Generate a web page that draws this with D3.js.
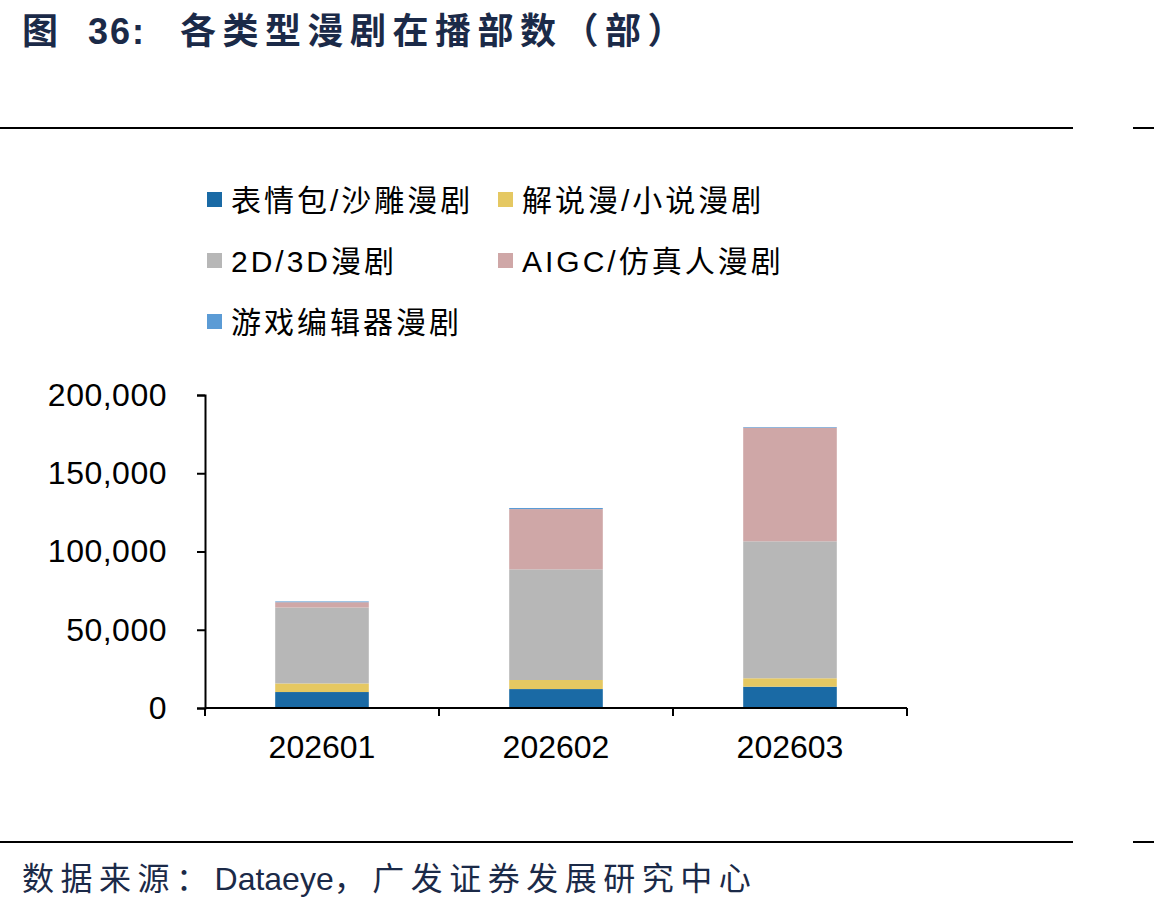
<!DOCTYPE html>
<html>
<head>
<meta charset="utf-8">
<script src="https://cdn.jsdelivr.net/npm/d3@7"></script>
<style>
  body { margin: 0; background: #fff; }
  text { font-family: "Liberation Sans", Arial, "Noto Sans CJK SC", sans-serif; }
  .cjk { font-family: "Liberation Sans", "Noto Sans CJK SC", sans-serif; }
</style>
</head>
<body>
<script>
// 数据：各月份各类型漫剧在播部数
var months = ['202601', '202602', '202603'];
var seriesNames = ['表情包/沙雕漫剧', '解说漫/小说漫剧', '2D/3D漫剧', 'AIGC/仿真人漫剧', '游戏编辑器漫剧'];
var emoji   = [10200, 12100, 13600];
var novel   = [5500, 5800, 5400];
var anim    = [48500, 70700, 87500];
var aigc    = [3400, 38500, 72600];
var game    = [500, 700, 400];
var yTicks  = [0, 50000, 100000, 150000, 200000];

var colors = ['#1a6aa5', '#e5c862', '#b7b7b7', '#cfa7a7', '#5b9bd5'];

var WIDTH = 1154, HEIGHT = 911;
var svg = d3.select('body').append('svg')
            .attr('width', WIDTH)
            .attr('height', HEIGHT);

// 标题（分三段摆放）
var titleParts = [[22, '图', 0], [88, '36:', 2], [180, '各类型漫剧在播部数（部）', 6.5]];
svg.selectAll('text.title')
   .data(titleParts)
   .enter()
 .append('text')
   .attr('class', 'title cjk')
   .attr('x', function(d) { return d[0]; })
   .attr('y', 44)
   .attr('font-size', 36).attr('font-weight', 'bold')
   .attr('letter-spacing', function(d) { return d[2]; })
   .attr('fill', '#1b2a48')
   .text(function(d) { return d[1]; });

// 上下分隔线
[128, 842].forEach(function(y) {
  svg.append('line').attr('x1', 0).attr('x2', 1073).attr('y1', y).attr('y2', y)
     .attr('stroke', '#000').attr('stroke-width', 2);
  svg.append('line').attr('x1', 1133).attr('x2', 1154).attr('y1', y).attr('y2', y)
     .attr('stroke', '#000').attr('stroke-width', 2);
});

// 数据来源（中文部分加字距，英文不加）
var source = svg.append('text')
   .attr('x', 22).attr('y', 890)
   .attr('class', 'cjk')
   .attr('font-size', 32).attr('fill', '#1b2a48');
[['数据来源：', 6.5], ['Dataeye', 0], ['，广发证券发展研究中心', 6.5]].forEach(function(p) {
  source.append('tspan').attr('letter-spacing', p[1]).text(p[0]);
});

// 图例
var legendPos = [[207, 200], [498, 200], [207, 261], [498, 261], [207, 322]];
var legend = svg.selectAll('g.legend')
                .data(seriesNames)
                .enter()
              .append('g')
                .attr('class', 'legend')
                .attr('transform', function(d, i) {
                  return 'translate(' + legendPos[i][0] + ',' + legendPos[i][1] + ')';
                });
legend.append('rect')
      .attr('x', 0).attr('y', -8).attr('width', 15).attr('height', 15)
      .attr('fill', function(d, i) { return colors[i]; });
legend.append('text')
      .attr('x', 24).attr('y', 11)
      .attr('class', 'cjk')
      .attr('font-size', 30).attr('letter-spacing', 3).attr('fill', '#000')
      .text(function(d) { return d; });

// 比例尺
var x = d3.scaleBand().domain(months).range([205, 907]).paddingInner(0.6).paddingOuter(0.3);
var y = d3.scaleLinear().domain([0, 200000]).range([708, 395]);

// 堆叠
var table = months.map(function(m, i) {
  return { month: m, s0: emoji[i], s1: novel[i], s2: anim[i], s3: aigc[i], s4: game[i] };
});
var stack = d3.stack().keys(['s0', 's1', 's2', 's3', 's4'])(table);

svg.append('g').selectAll('g')
   .data(stack)
   .enter()
 .append('g')
   .attr('fill', function(d, i) { return colors[i]; })
 .selectAll('rect')
   .data(function(d) { return d; })
   .enter()
 .append('rect')
   .attr('x', function(d) { return x(d.data.month); })
   .attr('width', x.bandwidth())
   .attr('y', function(d) { return y(d[1]); })
   .attr('height', function(d) { return y(d[0]) - y(d[1]); });

// Y 轴
var yAxis = svg.append('g')
   .attr('transform', 'translate(205,0)')
   .call(d3.axisLeft(y).tickValues(yTicks).tickSize(8).tickPadding(30)
           .tickFormat(d3.format(',')));
yAxis.selectAll('text').attr('font-size', 32).attr('letter-spacing', 0.5).attr('fill', '#000')
     .attr('font-family', '"Liberation Sans", Arial, sans-serif');
yAxis.selectAll('line, path').attr('stroke', '#000').attr('stroke-width', 2);

// X 轴（分类边界刻度）
var xAxisG = svg.append('g');
xAxisG.append('line').attr('x1', 205).attr('x2', 907).attr('y1', 708).attr('y2', 708)
      .attr('stroke', '#000').attr('stroke-width', 2);
var bounds = d3.range(months.length + 1).map(function(i) { return 205 + i * (702 / months.length); });
xAxisG.selectAll('line.tk')
      .data(bounds)
      .enter()
    .append('line')
      .attr('class', 'tk')
      .attr('x1', function(d) { return d; }).attr('x2', function(d) { return d; })
      .attr('y1', 708).attr('y2', 716)
      .attr('stroke', '#000').attr('stroke-width', 2);
xAxisG.selectAll('text')
      .data(months)
      .enter()
    .append('text')
      .attr('x', function(d) { return x(d) + x.bandwidth() / 2; })
      .attr('y', 758)
      .attr('text-anchor', 'middle')
      .attr('font-size', 32).attr('fill', '#000')
      .text(function(d) { return d; });
</script>
</body>
</html>
